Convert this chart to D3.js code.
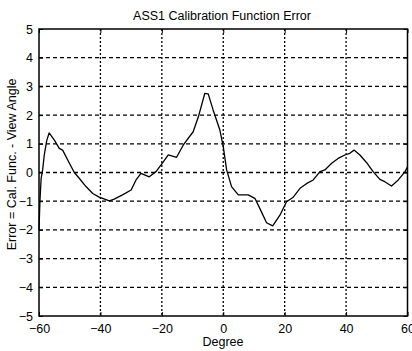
<!DOCTYPE html>
<html>
<head>
<meta charset="utf-8">
<script src="https://cdn.jsdelivr.net/npm/d3@7"></script>
<style>
  html, body { margin: 0; padding: 0; background: #fff; }
  svg { display: block; }
  text { font-family: "Liberation Sans", Arial, sans-serif; fill: #000; }
</style>
</head>
<body>
<svg id="chart" width="412" height="351"></svg>
<script>
const titleText = "ASS1 Calibration Function Error";
const xLabelText = "Degree";
const yLabelText = "Error = Cal. Func. - View Angle";
const xTicks = [-60, -40, -20, 0, 20, 40, 60];
const yTicks = [-5, -4, -3, -2, -1, 0, 1, 2, 3, 4, 5];
const degree = [-60, -59.7, -59.3, -58.8, -58.3, -57.5, -56.7, -55.0, -53.4, -52.3, -50.1, -48.5, -46.9, -44.7, -42.5, -40.4, -37.1, -35.5, -32.8, -30.0, -28.4, -26.8, -24.1, -21.9, -20.0, -17.9, -15.2, -13.0, -9.8, -8.1, -6.0, -4.9, -3.3, -1.1, 0.0, 1.1, 2.7, 4.9, 8.1, 10.3, 11.9, 14.1, 16.1, 18.5, 20.6, 22.8, 25.0, 27.2, 29.3, 31.5, 33.1, 35.3, 37.4, 39.6, 41.2, 42.6, 44.5, 46.7, 48.8, 51.0, 52.6, 54.8, 57.0, 59.2, 60];
const errorVal = [-2.0, -1.0, -0.2, 0.1, 0.6, 1.1, 1.38, 1.13, 0.84, 0.78, 0.32, 0.0, -0.2, -0.49, -0.73, -0.86, -0.99, -0.93, -0.78, -0.61, -0.26, -0.03, -0.15, 0.03, 0.3, 0.61, 0.53, 0.96, 1.42, 1.94, 2.76, 2.74, 2.18, 1.48, 0.9, 0.09, -0.49, -0.78, -0.78, -0.9, -1.25, -1.75, -1.86, -1.48, -1.02, -0.86, -0.55, -0.38, -0.26, 0.03, 0.09, 0.32, 0.49, 0.61, 0.67, 0.78, 0.61, 0.34, 0.03, -0.24, -0.32, -0.47, -0.26, 0.03, 0.2];

const svg = d3.select("#chart");
const L = 39, R = 407.5, T = 29, B = 316;
const x = d3.scaleLinear().domain([-60, 60]).range([L, R]);
const y = d3.scaleLinear().domain([-5, 5]).range([B, T]);

svg.append("rect").attr("width", 412).attr("height", 351).attr("fill", "#fff");

// grid
const g = svg.append("g");
g.selectAll("line.hg").data(yTicks.slice(1, -1)).enter().append("line")
  .attr("x1", L).attr("x2", R)
  .attr("y1", d => y(d)).attr("y2", d => y(d))
  .attr("stroke", "#000").attr("stroke-width", 1.3).attr("stroke-dasharray", "4,3");
g.selectAll("line.vg").data(xTicks.slice(1, -1)).enter().append("line")
  .attr("y1", T).attr("y2", B)
  .attr("x1", d => x(d)).attr("x2", d => x(d))
  .attr("stroke", "#000").attr("stroke-width", 1.3).attr("stroke-dasharray", "2,2");

// axes
const xAxis = d3.axisBottom(x).tickValues(xTicks).tickSize(-4).tickPadding(8);
const yAxis = d3.axisLeft(y).tickValues(yTicks).tickSize(-4).tickPadding(6);
const xa = svg.append("g").attr("transform", `translate(0,${B})`).call(xAxis);
const ya = svg.append("g").attr("transform", `translate(${L},0)`).call(yAxis);
[xa, ya].forEach(a => {
  a.select(".domain").remove();
  a.selectAll("text").style("font-size", "12.5px").style("font-family", "'Liberation Sans', Arial, sans-serif");
});
// top/right ticks
const xa2 = svg.append("g").attr("transform", `translate(0,${T})`).call(d3.axisTop(x).tickValues(xTicks).tickSize(-4).tickFormat(""));
const ya2 = svg.append("g").attr("transform", `translate(${R},0)`).call(d3.axisRight(y).tickValues(yTicks).tickSize(-4).tickFormat(""));
[xa2, ya2].forEach(a => a.select(".domain").remove());

// frame
svg.append("rect").attr("x", L).attr("y", T).attr("width", R - L).attr("height", B - T)
  .attr("fill", "none").attr("stroke", "#000").attr("stroke-width", 1.5);

// data line
const data = degree.map((d, i) => ({ d, e: errorVal[i] }));
svg.append("path").datum(data)
  .attr("fill", "none").attr("stroke", "#000").attr("stroke-width", 1.3)
  .attr("stroke-linejoin", "round")
  .attr("d", d3.line().x(p => x(p.d)).y(p => y(p.e)));

// labels
svg.append("text").attr("x", 222).attr("y", 20).attr("text-anchor", "middle")
  .style("font-size", "12.5px").text(titleText);
svg.append("text").attr("x", 223).attr("y", 346).attr("text-anchor", "middle")
  .style("font-size", "12.5px").text(xLabelText);
svg.append("text").attr("transform", `translate(16,${(T + B) / 2 - 8}) rotate(-90)`).attr("text-anchor", "middle")
  .style("font-size", "12.5px").text(yLabelText);
</script>
</body>
</html>
